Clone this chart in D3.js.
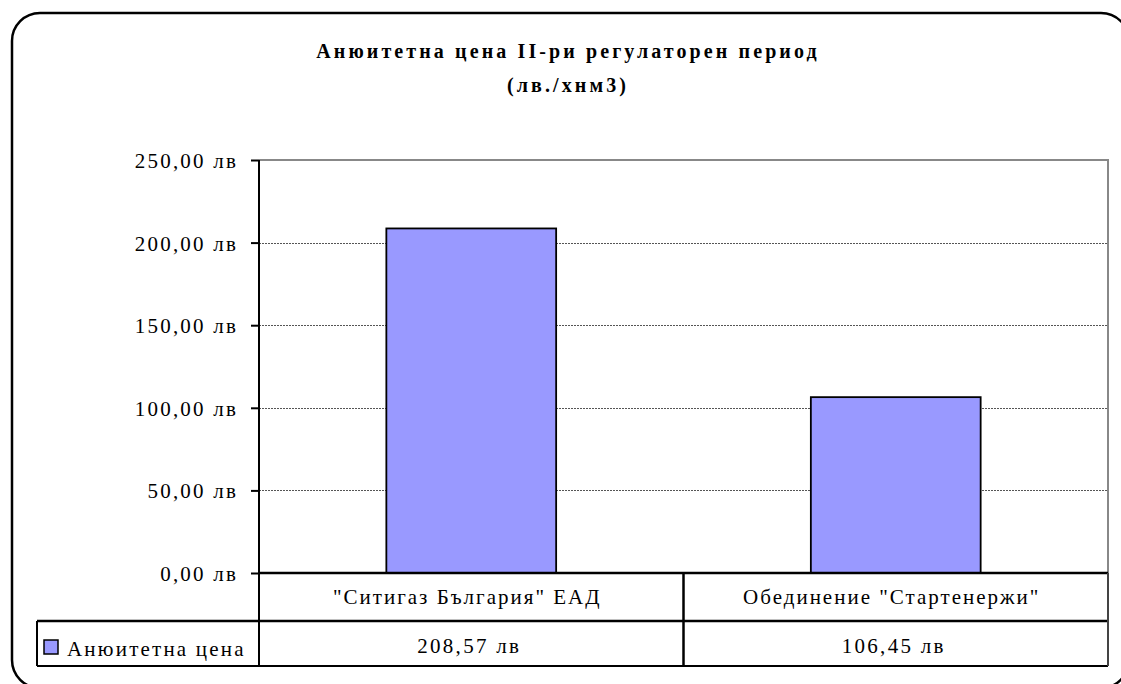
<!DOCTYPE html>
<html>
  <head>
    <meta charset="utf-8">
    <title>Анюитетна цена</title>
    <script src="https://cdnjs.cloudflare.com/ajax/libs/d3/7.8.5/d3.min.js"></script>
    <style>
      body { margin: 0; background: #fff; }
    </style>
  </head>
  <body>

    <svg class="chart" width="1121" height="684"></svg>

    <script>

      var categories = ['"Ситигаз България" ЕАД', 'Обединение "Стартенержи"'];
      var values = [208.57, 106.45];
      var seriesName = "Анюитетна цена";
      var yTicks = [0, 50, 100, 150, 200, 250];
      var titleLines = ["Анюитетна цена II-ри регулаторен период", "(лв./хнм3)"];

      var bg = d3.formatLocale({ decimal: ",", thousands: " ", grouping: [3], currency: ["", " лв"] });
      var fmt = function(v) { return bg.format(".2f")(v) + " лв"; };

      var FONT = "'Liberation Serif', 'Times New Roman', serif";
      var plotLeft = 259, plotRight = 1108, plotTop = 160, plotBottom = 573;
      var row1 = 621, row2 = 666, legendLeft = 37;

      var svg = d3.select("svg.chart");

      // outer rounded frame
      svg.append("rect")
        .attr("x", 12).attr("y", 13)
        .attr("width", 1117).attr("height", 675)
        .attr("rx", 28).attr("ry", 28)
        .attr("fill", "none").attr("stroke", "#000").attr("stroke-width", 2.5);

      // title
      var title = svg.append("text")
        .style("font-family", FONT)
        .attr("text-anchor", "middle")
        .attr("font-weight", "bold")
        .attr("font-size", 20)
        .attr("letter-spacing", 3.1);
      titleLines.forEach(function(t, i) {
        title.append("tspan").attr("x", 568).attr("y", 58 + i * 34).text(t);
      });

      var x = d3.scaleBand().domain(categories).range([plotLeft, plotRight]);
      var y = d3.scaleLinear().domain([0, 250]).range([plotBottom, plotTop]);

      // gridlines
      svg.append("g")
        .selectAll("line")
        .data(yTicks.filter(function(d) { return d > 0 && d < 250; }))
        .enter().append("line")
          .attr("x1", plotLeft).attr("x2", plotRight)
          .attr("y1", function(d) { return Math.round(y(d)) + 0.5; })
          .attr("y2", function(d) { return Math.round(y(d)) + 0.5; })
          .attr("stroke", "#555").attr("stroke-width", 1)
          .attr("stroke-dasharray", "2,1");

      // plot area border
      svg.append("path")
        .attr("d", "M" + plotLeft + "," + y(250) + "H" + plotRight + "V" + plotBottom)
        .attr("fill", "none").attr("stroke", "#888").attr("stroke-width", 2);

      // bars
      svg.append("g")
        .selectAll("rect")
        .data(values)
        .enter().append("rect")
          .attr("x", function(d, i) { return x(categories[i]) + x.bandwidth() * 0.3; })
          .attr("width", x.bandwidth() * 0.4)
          .attr("y", function(d) { return y(d); })
          .attr("height", function(d) { return y(0) - y(d); })
          .attr("fill", "#9999FF")
          .attr("stroke", "#000").attr("stroke-width", 1.8);

      // y axis
      var yAxis = d3.axisLeft(y).tickValues(yTicks).tickSize(8).tickPadding(13)
        .tickFormat(fmt);
      var ga = svg.append("g").attr("transform", "translate(" + plotLeft + ",0)").call(yAxis);
      ga.attr("font-family", null).attr("font-size", null);
      ga.select(".domain").remove();
      ga.selectAll(".tick line").attr("stroke", "#000").attr("stroke-width", 2);
      ga.selectAll(".tick text")
        .style("font-family", FONT)
        .attr("font-size", 21).attr("letter-spacing", 2.2)
        .attr("dy", "0.36em").attr("fill", "#000");
      svg.append("line")
        .attr("x1", plotLeft).attr("x2", plotLeft).attr("y1", plotTop).attr("y2", row2)
        .attr("stroke", "#000").attr("stroke-width", 2);

      // data table
      var tbl = svg.append("g");
      [plotBottom, row1].forEach(function(yy, i) {
        tbl.append("line")
          .attr("x1", i === 0 ? plotLeft : legendLeft).attr("x2", plotRight)
          .attr("y1", yy).attr("y2", yy)
          .attr("stroke", "#000").attr("stroke-width", 2.5);
      });
      tbl.append("line")
        .attr("x1", legendLeft).attr("x2", plotRight).attr("y1", row2).attr("y2", row2)
        .attr("stroke", "#000").attr("stroke-width", 2);
      tbl.append("line")
        .attr("x1", legendLeft).attr("x2", legendLeft).attr("y1", row1).attr("y2", row2)
        .attr("stroke", "#000").attr("stroke-width", 2);
      tbl.append("line")
        .attr("x1", plotRight).attr("x2", plotRight).attr("y1", plotBottom).attr("y2", row2)
        .attr("stroke", "#444").attr("stroke-width", 2);
      tbl.selectAll("line.div")
        .data(categories.slice(1))
        .enter().append("line")
          .attr("class", "div")
          .attr("x1", function(d) { return x(d); }).attr("x2", function(d) { return x(d); })
          .attr("y1", plotBottom).attr("y2", row2)
          .attr("stroke", "#000").attr("stroke-width", 2.5);

      tbl.selectAll("text.cat")
        .data(categories)
        .enter().append("text")
          .attr("class", "cat")
          .style("font-family", FONT)
          .attr("x", function(d) { return x(d) + x.bandwidth() / 2 - 4; })
          .attr("y", 604)
          .attr("text-anchor", "middle").attr("font-size", 21).attr("letter-spacing", 2)
          .text(function(d) { return d; });

      tbl.selectAll("text.val")
        .data(values)
        .enter().append("text")
          .attr("class", "val")
          .style("font-family", FONT)
          .attr("x", function(d, i) { return x(categories[i]) + x.bandwidth() / 2 - 2; })
          .attr("y", 653)
          .attr("text-anchor", "middle").attr("font-size", 21).attr("letter-spacing", 2.3)
          .text(function(d) { return fmt(d); });

      // legend key
      tbl.append("rect")
        .attr("x", 44).attr("y", 640).attr("width", 14).attr("height", 14)
        .attr("fill", "#9999FF").attr("stroke", "#000").attr("stroke-width", 1.5);
      tbl.append("text")
        .style("font-family", FONT)
        .attr("x", 67).attr("y", 656)
        .attr("font-size", 21).attr("letter-spacing", 2.2)
        .text(seriesName);

    </script>
  </body>
</html>
